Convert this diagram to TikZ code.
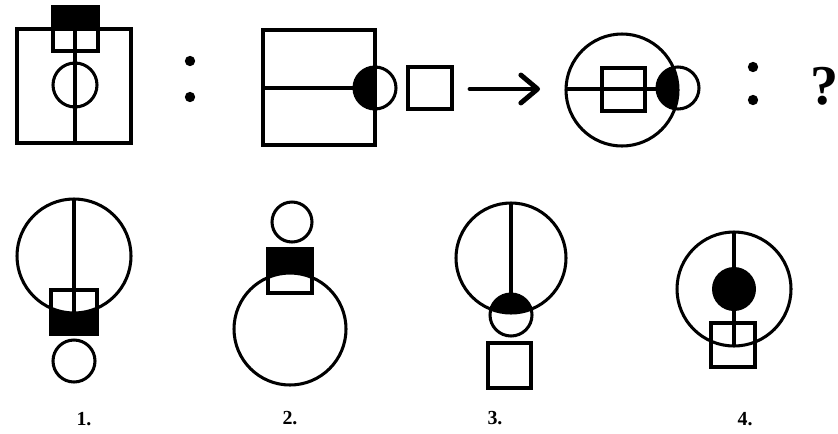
\documentclass[tikz,border=0pt]{standalone}
\usepackage{fontspec}
\setmainfont{Liberation Serif}
\usetikzlibrary{arrows.meta}
\tikzset{>/.tip={Straight Barb[length=5mm,width=8.4mm,round]},
  fig/.style={line width=2.6pt},
  dot/.style={circle,fill,inner sep=0pt,minimum size=3.1mm},
  lbl/.style={font=\bfseries\fontsize{17}{17}\selectfont}}

\begin{document}
\begin{tikzpicture}[x=0.3mm,y=-0.3mm]
 \useasboundingbox (0,0) rectangle (838,433);

 % first pair
 \fill (53,7) rectangle (98,29);
 \draw[fig] (17,29) rectangle (131,143);
 \draw[fig] (53,7) rectangle (98,51);
 \draw[fig] (75,29) -- (75,143);
 \draw[fig] (75,85) circle (22);

 \node[dot] (c1) at (190,61) {};
 \node[dot] (c2) at (190,97) {};

 \begin{scope}
  \clip (350,60) rectangle (375,115);
  \fill (375,88) circle (21);
 \end{scope}
 \draw[fig] (263,30) rectangle (375,145);
 \draw[fig] (263,88) -- (354,88);
 \draw[fig] (375,88) circle (21);
 \draw[fig] (408,67) rectangle (452,109);

 \coordinate (arrs) at (470,89);
 \coordinate (arre) at (540,89);
 \draw[->, line width=4.2pt, line cap=round] (arrs) -- (arre);

 \begin{scope}
  \clip (622,90) circle (56);
  \fill (678,88) circle (21);
 \end{scope}
 \draw[fig] (622,90) circle (56);
 \draw[fig] (678,88) circle (21);
 \draw[fig] (566,89) -- (657,89);
 \draw[fig] (602,68) rectangle (645,111);

 \node[dot] (c3) at (753,67) {};
 \node[dot] (c4) at (753,100) {};
 \node[inner sep=0pt] (q) at (825,86) {\bfseries\fontsize{48}{48}\selectfont ?};

 % answers
 \begin{scope}
  \clip (51,290) rectangle (97,334);
  \fill[even odd rule] (51,290) rectangle (97,334) (74,256) circle (57);
 \end{scope}
 \draw[fig] (74,256) circle (57);
 \draw[fig] (74,199) -- (74,312);
 \draw[fig] (51,290) rectangle (97,334);
 \draw[fig] (74,361) circle (21);

 \draw[fig] (292,222) circle (20);
 \begin{scope}
  \clip (268,249) rectangle (312,293);
  \fill[even odd rule] (268,249) rectangle (312,293) (290,329) circle (56);
 \end{scope}
 \draw[fig] (290,329) circle (56);
 \draw[fig] (268,249) rectangle (312,293);

 \begin{scope}
  \clip (511,258) circle (55);
  \fill (511,315) circle (21);
 \end{scope}
 \draw[fig] (511,258) circle (55);
 \draw[fig] (511,203) -- (511,295);
 \draw[fig] (511,315) circle (21);
 \draw[fig] (488,343) rectangle (531,388);

 \draw[fig] (734,289) circle (57);
 \draw[fig] (734,232) -- (734,347);
 \fill (734,289) circle (22);
 \draw[fig] (711,323) rectangle (755,367);

 \node[lbl] (l1) at (84,419) {1.};
 \node[lbl] (l2) at (290,418) {2.};
 \node[lbl] (l3) at (495,418) {3.};
 \node[lbl] (l4) at (745,419) {4.};
\end{tikzpicture}
\end{document}
